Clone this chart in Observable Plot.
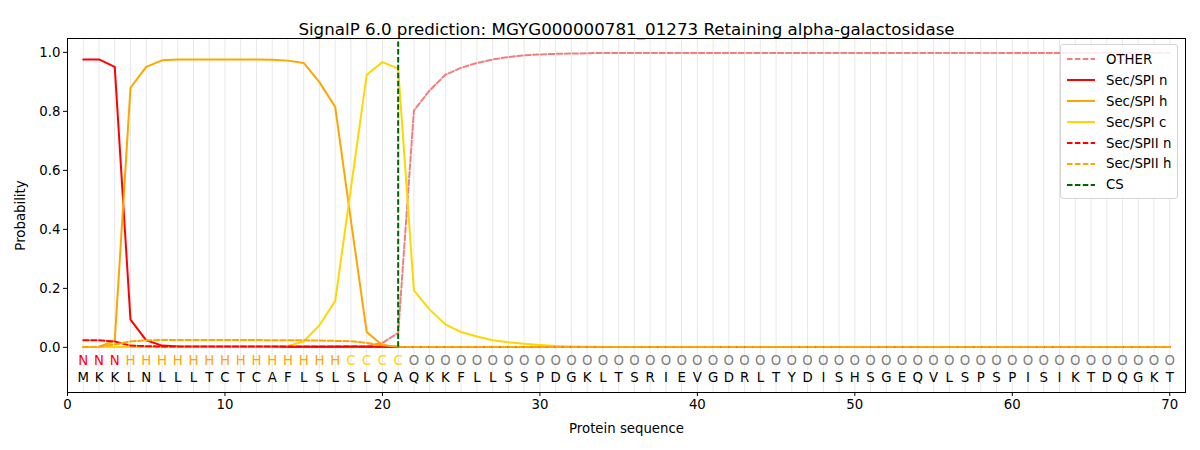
<!DOCTYPE html>
<html>
<head>
<meta charset="utf-8">
<script src="https://cdn.jsdelivr.net/npm/d3@7"></script>
<script src="https://cdn.jsdelivr.net/npm/@observablehq/plot@0.6"></script>
<style>
  html, body { margin: 0; padding: 0; background: #fff; }
  #wrap { position: relative; width: 1200px; height: 450px; font-family: "DejaVu Sans", sans-serif; }
  #legend { position: absolute; left: 1060px; top: 44px; width: 116px; padding: 4px 0 3px 0;
            border: 1px solid #d5d5d5; border-radius: 3px; background: rgba(255,255,255,0.85);
            font-size: 13.3px; color: #000; }
  .item { display: flex; align-items: center; height: 20.9px; }
  .item svg { margin-left: 6px; margin-right: 11px; }
</style>
</head>
<body>
<div id="wrap"><div id="legend"></div></div>
<script>
const title = "SignalP 6.0 prediction: MGYG000000781_01273 Retaining alpha-galactosidase";
const sequence = "MKKLNLLLTCTCAFLSLSLQAQKKFLLSSPDGKLTSRIEVGDRLTYDISHSGEQVLSPSPISIKTDQGKT".split("");
const regions = "NNNHHHHHHHHHHHHHHCCCCOOOOOOOOOOOOOOOOOOOOOOOOOOOOOOOOOOOOOOOOOOOOOOOOO".split("");
const xTicks = [0, 10, 20, 30, 40, 50, 60, 70];
const yTicks = [0, 0.2, 0.4, 0.6, 0.8, 1.0];
const csPosition = 21;

const other = [0.001,0.001,0.001,0.001,0.001,0.001,0.001,0.001,0.001,0.001,
  0.001,0.001,0.001,0.001,0.001,0.001,0.002,0.003,0.004,0.015,
  0.049,0.803,0.871,0.924,0.948,0.964,0.976,0.984,0.990,0.993,
  0.995,0.996,0.997,0.998,0.998,0.998,0.998,0.998,0.998,0.998,
  0.998,0.998,0.998,0.998,0.998,0.998,0.998,0.998,0.998,0.998,
  0.998,0.998,0.998,0.998,0.998,0.998,0.998,0.998,0.998,0.998,
  0.998,0.998,0.998,0.998,0.998,0.998,0.998,0.998,0.998,0.998];
const spiN = [0.976,0.976,0.951,0.094,0.024,0.006,0.003,0.002,0.002,0.002,
  0.002,0.002,0.002,0.002,0.002,0.002,0.002,0.002,0.002,0.002,
  0.001,0.001,0.001,0.001,0.001,0.001,0.001,0.001,0.001,0.001,
  0.001,0.001,0.001,0.001,0.001,0.001,0.001,0.001,0.001,0.001,
  0.001,0.001,0.001,0.001,0.001,0.001,0.001,0.001,0.001,0.001,
  0.001,0.001,0.001,0.001,0.001,0.001,0.001,0.001,0.001,0.001,
  0.001,0.001,0.001,0.001,0.001,0.001,0.001,0.001,0.001,0.001];
const spiH = [0.001,0.002,0.022,0.880,0.951,0.973,0.976,0.976,0.976,0.976,
  0.976,0.976,0.975,0.972,0.964,0.899,0.815,0.430,0.052,0.007,
  0.002,0.001,0.001,0.001,0.001,0.001,0.001,0.001,0.001,0.001,
  0.001,0.001,0.001,0.001,0.001,0.001,0.001,0.001,0.001,0.001,
  0.001,0.001,0.001,0.001,0.001,0.001,0.001,0.001,0.001,0.001,
  0.001,0.001,0.001,0.001,0.001,0.001,0.001,0.001,0.001,0.001,
  0.001,0.001,0.001,0.001,0.001,0.001,0.001,0.001,0.001,0.001];
const spiC = [0.001,0.001,0.001,0.001,0.001,0.001,0.001,0.001,0.001,0.001,
  0.001,0.001,0.002,0.005,0.020,0.075,0.157,0.540,0.924,0.967,
  0.945,0.193,0.128,0.078,0.052,0.037,0.024,0.017,0.012,0.008,
  0.005,0.003,0.002,0.001,0.001,0.001,0.001,0.001,0.001,0.001,
  0.001,0.001,0.001,0.001,0.001,0.001,0.001,0.001,0.001,0.001,
  0.001,0.001,0.001,0.001,0.001,0.001,0.001,0.001,0.001,0.001,
  0.001,0.001,0.001,0.001,0.001,0.001,0.001,0.001,0.001,0.001];
const spiiN = [0.024,0.024,0.020,0.006,0.004,0.003,0.003,0.003,0.003,0.003,
  0.003,0.003,0.003,0.003,0.003,0.003,0.003,0.003,0.002,0.002,
  0.001,0.001,0.001,0.001,0.001,0.001,0.001,0.001,0.001,0.001,
  0.001,0.001,0.001,0.001,0.001,0.001,0.001,0.001,0.001,0.001,
  0.001,0.001,0.001,0.001,0.001,0.001,0.001,0.001,0.001,0.001,
  0.001,0.001,0.001,0.001,0.001,0.001,0.001,0.001,0.001,0.001,
  0.001,0.001,0.001,0.001,0.001,0.001,0.001,0.001,0.001,0.001];
const spiiH = [0.001,0.002,0.010,0.020,0.024,0.025,0.025,0.025,0.025,0.025,
  0.025,0.025,0.024,0.024,0.024,0.023,0.022,0.021,0.015,0.007,
  0.002,0.001,0.001,0.001,0.001,0.001,0.001,0.001,0.001,0.001,
  0.001,0.001,0.001,0.001,0.001,0.001,0.001,0.001,0.001,0.001,
  0.001,0.001,0.001,0.001,0.001,0.001,0.001,0.001,0.001,0.001,
  0.001,0.001,0.001,0.001,0.001,0.001,0.001,0.001,0.001,0.001,
  0.001,0.001,0.001,0.001,0.001,0.001,0.001,0.001,0.001,0.001];

const seriesNames = ["OTHER","Sec/SPI n","Sec/SPI h","Sec/SPI c","Sec/SPII n","Sec/SPII h","CS"];
const seriesColors = ["#f08080","#ff0000","#ffa500","#ffd700","#ff0000","#ffa500","#006400"];
const seriesDashed = [true,false,false,false,true,true,true];
const seriesValues = [other, spiN, spiH, spiC, spiiN, spiiH];
const regionColors = {N: "#ff0000", H: "#ffa500", C: "#ffd700", O: "#808080"};

const regionRowY = -0.047;
const aaRowY = -0.102;
const dash = "5.5,2.4";

const positions = sequence.map((_, i) => i + 1);
const rows = [];
seriesValues.forEach((vals, s) => vals.forEach((v, i) => rows.push({series: seriesNames[s], s, x: i + 1, y: v})));
const letters = sequence.map((aa, i) => ({x: i + 1, aa, region: regions[i]}));

const lineMarks = seriesValues.map((vals, s) =>
  Plot.line(rows.filter(r => r.s === s), {
    x: "x", y: "y", stroke: seriesColors[s], strokeWidth: 2,
    strokeDasharray: seriesDashed[s] ? dash : null
  })
);

const chart = Plot.plot({
  width: 1200, height: 450,
  marginLeft: 67, marginRight: 15, marginTop: 38, marginBottom: 58,
  style: {fontFamily: "DejaVu Sans, sans-serif", fontSize: "13.3px", color: "#000", background: "#fff"},
  x: {domain: [0, 71]},
  y: {domain: [-0.153, 1.047]},
  marks: [
    Plot.ruleX(positions, {x: d => d, stroke: "#e8e8e8", strokeWidth: 1}),
    ...lineMarks,
    Plot.ruleX([csPosition], {x: d => d, y1: 0, y2: 1.035, stroke: seriesColors[6], strokeWidth: 2, strokeDasharray: dash}),
    Plot.text(letters, {x: "x", y: regionRowY, text: "region", fill: d => regionColors[d.region], fontSize: 13.3}),
    Plot.text(letters, {x: "x", y: aaRowY, text: "aa", fill: "#000", fontSize: 13.3}),
    Plot.frame({stroke: "#000", strokeWidth: 1}),
    Plot.axisX({ticks: xTicks, tickSize: 4, tickPadding: 3, label: "Protein sequence", labelAnchor: "center", labelArrow: "none", labelOffset: 40}),
    Plot.axisY({ticks: yTicks, tickSize: 4, tickPadding: 3, tickFormat: d3.format(".1f"), label: "Probability", labelAnchor: "center", labelArrow: "none", labelOffset: 52}),
    Plot.text([title], {frameAnchor: "top", dy: -15, fontSize: 16.7, fill: "#000"})
  ]
});

document.getElementById("wrap").prepend(chart);

const legend = document.getElementById("legend");
seriesNames.forEach((name, s) => {
  const item = document.createElement("div");
  item.className = "item";
  item.innerHTML = `<svg width="28" height="10"><line x1="0" x2="28" y1="5" y2="5" stroke="${seriesColors[s]}" stroke-width="2" ${seriesDashed[s] ? `stroke-dasharray="${dash}"` : ""}/></svg><span>${name}</span>`;
  legend.appendChild(item);
});
</script>
</body>
</html>
